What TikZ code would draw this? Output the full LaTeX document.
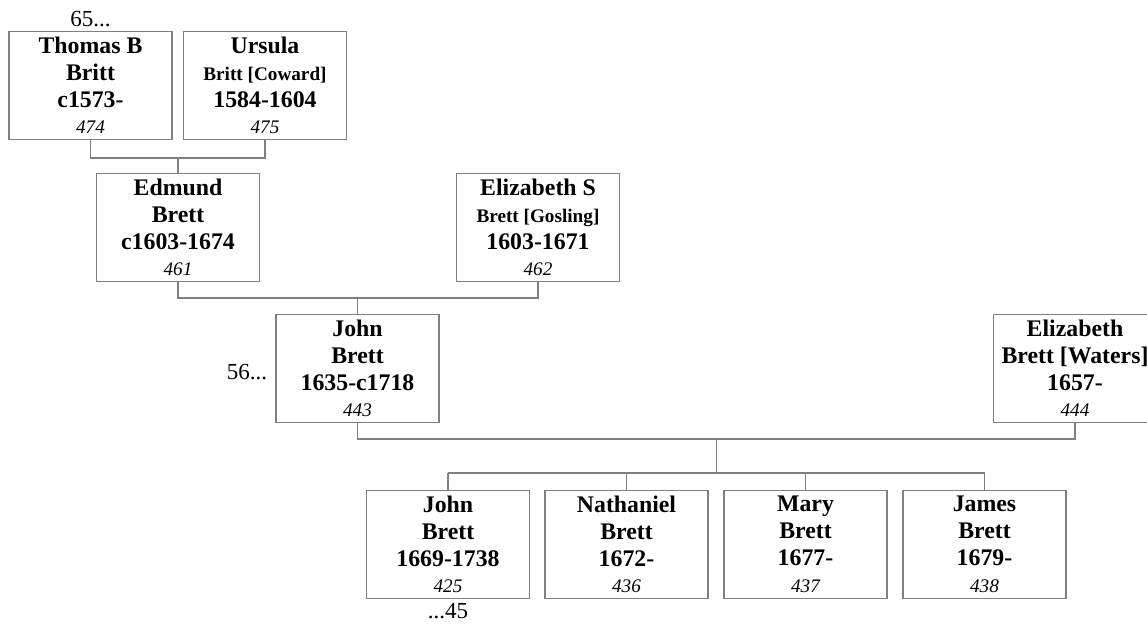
\documentclass[tikz,border=0pt]{standalone}
\usepackage{fontspec}
\setmainfont{Liberation Serif}
\usepackage{tikz}
\usetikzlibrary{positioning,calc}
\definecolor{boxline}{RGB}{128,128,128}
\newcommand{\namefont}{\fontsize{11.9}{13.4}\selectfont\bfseries}
\newcommand{\maidenfont}{\fontsize{9.6}{13.4}\selectfont\bfseries}
\newcommand{\refno}[1]{{\fontsize{9.6}{13.4}\selectfont\mdseries\itshape #1}}

\begin{document}
\begin{tikzpicture}[
  x=0.5pt, y=-0.5pt,
  person/.style={rectangle, draw=boxline, line width=0.6pt, fill=white,
                 minimum width=81.5pt, minimum height=54pt, inner sep=0pt,
                 align=center, font=\namefont},
  link/.style={draw=boxline, line width=0.6pt},
  more/.style={font=\fontsize{11.5}{13}\selectfont, inner sep=1pt}
]
  \useasboundingbox (0,0) rectangle (1147,624);

  % generation 1
  \node[person] (thomas) at (90.5,85.5) {Thomas B\\Britt\\c1573-\\\refno{474}};
  \node[person] (ursula) at (265,85.5) {Ursula\\{\maidenfont Britt [Coward]}\\1584-1604\\\refno{475}};
  % generation 2
  \node[person] (edmund) at (178,227.5) {Edmund\\Brett\\c1603-1674\\\refno{461}};
  \node[person] (elizs) at (538,227.5) {Elizabeth S\\{\maidenfont Brett [Gosling]}\\1603-1671\\\refno{462}};
  % generation 3
  \node[person] (john) at (357.5,368.5) {John\\Brett\\1635-c1718\\\refno{443}};
  \node[person] (elizw) at (1075,368.5) {Elizabeth\\Brett [Waters]\\1657-\\\refno{444}};
  % children
  \node[person] (johnjr) at (448,544.5) {John\\Brett\\1669-1738\\\refno{425}};
  \node[person] (nath) at (626.5,544.5) {Nathaniel\\Brett\\1672-\\\refno{436}};
  \node[person] (mary) at (805.5,544.5) {Mary\\Brett\\1677-\\\refno{437}};
  \node[person] (james) at (984.5,544.5) {James\\Brett\\1679-\\\refno{438}};

  % continuation marks
  \node[more, above=1pt of thomas] (up65) {65...};
  \node[more, left=3pt of john, yshift=-2pt] (up56) {56...};
  \node[more, below=1pt of johnjr] (down45) {...45};

  % couples and descent
  \draw[link] (thomas.south) -- ++(0,18) coordinate (tu) -| (ursula.south);
  \draw[link] (tu -| edmund.north) -- (edmund.north);

  \draw[link] (edmund.south) -- ++(0,16) coordinate (ee) -| (elizs.south);
  \draw[link] (ee -| john.north) -- (john.north);

  \draw[link] (john.south) -- ++(0,16) coordinate (jw) -| (elizw.south);
  \coordinate (fam) at ($(jw)!0.5!(jw -| elizw.south)$);
  \draw[link] (fam) -- ++(0,34) coordinate (kids);
  \draw[link] (kids -| johnjr.north) -- (kids -| james.north);
  \foreach \c in {johnjr,nath,mary,james}
    \draw[link] (kids -| \c.north) -- (\c.north);
\end{tikzpicture}
\end{document}
